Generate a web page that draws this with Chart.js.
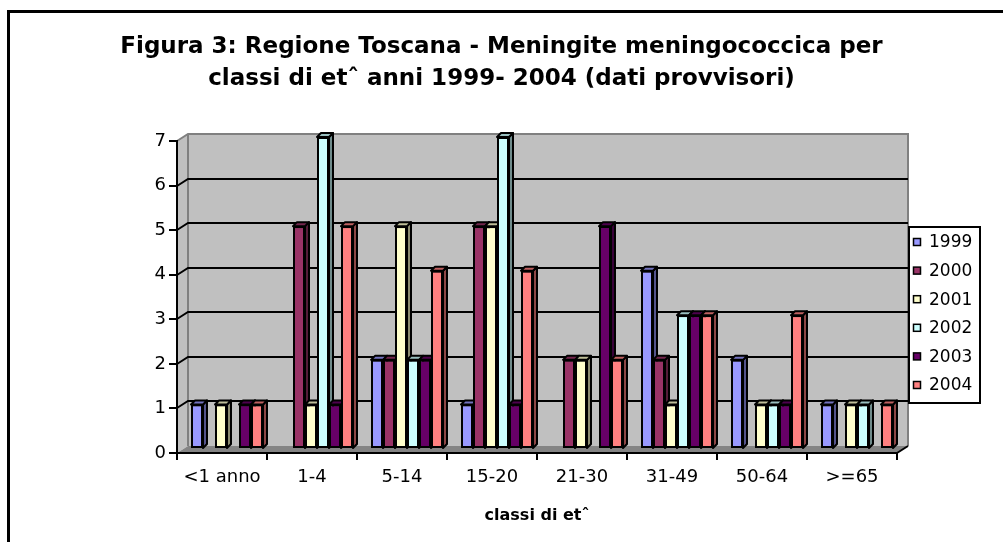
<!DOCTYPE html>
<html>
<head>
<meta charset="utf-8">
<script src="https://cdn.jsdelivr.net/npm/chart.js@4.4.1/dist/chart.umd.min.js"></script>
<style>
  html, body { margin: 0; padding: 0; background: #ffffff; }
  canvas { display: block; }
</style>
</head>
<body>
<canvas id="c" width="1003" height="542"></canvas>
<script>
// ---- data ----
const categories = ['<1 anno', '1-4', '5-14', '15-20', '21-30', '31-49', '50-64', '>=65'];
const seriesNames = ['1999', '2000', '2001', '2002', '2003', '2004'];
const v1999 = [1, 0, 2, 1, 0, 4, 2, 1];
const v2000 = [0, 5, 2, 5, 2, 2, 0, 0];
const v2001 = [1, 1, 5, 5, 2, 1, 1, 1];
const v2002 = [0, 7, 2, 7, 0, 3, 1, 1];
const v2003 = [1, 1, 2, 1, 5, 3, 1, 0];
const v2004 = [1, 5, 4, 4, 2, 3, 3, 1];
const yTicks = [0, 1, 2, 3, 4, 5, 6, 7];
const titleLines = ['Figura 3: Regione Toscana - Meningite meningococcica per', 'classi di etˆ anni 1999- 2004 (dati provvisori)'];
const xTitle = 'classi di etˆ';

const seriesValues = [v1999, v2000, v2001, v2002, v2003, v2004];
const colors = ['#9999FF', '#993366', '#FFFFCC', '#CCFFFF', '#660066', '#FF8080'];

Chart.defaults.font.family = 'DejaVu Sans';
Chart.defaults.color = '#000000';

const WD = 11, WDY = 7;     // wall depth
const BD = 4;               // bar depth
const SX = 5, SY = -4;      // bar row shift (middle of depth)

function shade(hex, f) {
  const n = parseInt(hex.slice(1), 16);
  const r = Math.round(((n >> 16) & 255) * f), g = Math.round(((n >> 8) & 255) * f), b = Math.round((n & 255) * f);
  return `rgb(${r},${g},${b})`;
}

const walls = {
  id: 'walls',
  beforeDraw(chart) {
    const { ctx, chartArea: a } = chart;
    const y = chart.scales.y;
    const L = a.left, R = a.right, T = a.top, B = a.bottom;
    ctx.save();
    ctx.strokeStyle = '#000'; ctx.lineWidth = 3;
    ctx.beginPath(); ctx.moveTo(8.5, 542); ctx.lineTo(8.5, 11.5); ctx.lineTo(1003, 11.5); ctx.stroke();
    ctx.fillStyle = '#c0c0c0';
    ctx.fillRect(L + WD, T - WDY, R - L, B - T);
    ctx.beginPath(); ctx.moveTo(L, T); ctx.lineTo(L + WD, T - WDY); ctx.lineTo(L + WD, B - WDY); ctx.lineTo(L, B); ctx.closePath(); ctx.fill();
    ctx.fillStyle = '#848484';
    ctx.beginPath(); ctx.moveTo(L, B); ctx.lineTo(L + WD, B - WDY); ctx.lineTo(R + WD, B - WDY); ctx.lineTo(R, B); ctx.closePath(); ctx.fill();
    ctx.strokeStyle = '#808080'; ctx.lineWidth = 2;
    ctx.beginPath(); ctx.moveTo(L, T); ctx.lineTo(L + WD, T - WDY); ctx.lineTo(R + WD, T - WDY); ctx.lineTo(R + WD, B - WDY); ctx.stroke();
    ctx.beginPath(); ctx.moveTo(L + WD, T - WDY); ctx.lineTo(L + WD, B - WDY); ctx.stroke();
    ctx.strokeStyle = '#000'; ctx.lineWidth = 2;
    for (const t of y.ticks) {
      if (t.value <= y.min || t.value >= y.max) continue;
      const py = Math.round(y.getPixelForValue(t.value));
      ctx.beginPath(); ctx.moveTo(L, py); ctx.lineTo(L + WD, py - WDY); ctx.lineTo(R + WD, py - WDY); ctx.stroke();
    }
    ctx.beginPath(); ctx.moveTo(R, B); ctx.lineTo(R + WD, B - WDY); ctx.stroke();
    ctx.restore();
  }
};

const bars3d = {
  id: 'bars3d',
  beforeDatasetsDraw(chart) { chart.ctx.save(); chart.ctx.translate(SX, SY); },
  afterDatasetsDraw(chart) {
    const ctx = chart.ctx;
    chart.data.datasets.forEach((ds, i) => {
      const meta = chart.getDatasetMeta(i);
      meta.data.forEach((bar, j) => {
        if (!ds.data[j]) return;
        const { x, y, base, width } = bar.getProps(['x', 'y', 'base', 'width'], true);
        const l = x - width / 2, r = x + width / 2;
        ctx.save();
        ctx.strokeStyle = '#000'; ctx.lineWidth = 2; ctx.lineJoin = 'round';
        ctx.fillStyle = shade(ds.backgroundColor, 0.55);
        ctx.beginPath(); ctx.moveTo(r, y); ctx.lineTo(r + BD, y - BD); ctx.lineTo(r + BD, base - BD); ctx.lineTo(r, base); ctx.closePath(); ctx.fill(); ctx.stroke();
        ctx.fillStyle = shade(ds.backgroundColor, 0.75);
        ctx.beginPath(); ctx.moveTo(l, y); ctx.lineTo(l + BD, y - BD); ctx.lineTo(r + BD, y - BD); ctx.lineTo(r, y); ctx.closePath(); ctx.fill(); ctx.stroke();
        ctx.restore();
        bar.draw(ctx);
      });
    });
    ctx.restore();
  }
};

const legendBox = {
  id: 'legendBox',
  afterDraw(chart) {
    const ctx = chart.ctx;
    ctx.save();
    ctx.fillStyle = '#fff'; ctx.strokeStyle = '#000'; ctx.lineWidth = 2;
    ctx.fillRect(909, 227, 71, 176); ctx.strokeRect(909, 227, 71, 176);
    ctx.font = '17px "DejaVu Sans"'; ctx.textBaseline = 'middle'; ctx.textAlign = 'left';
    chart.data.datasets.forEach((ds, i) => {
      const cy = 242 + i * 28.6;
      ctx.fillStyle = ds.backgroundColor; ctx.fillRect(913.5, cy - 3.5, 7, 7);
      ctx.lineWidth = 1.5; ctx.strokeRect(913.5, cy - 3.5, 7, 7);
      ctx.fillStyle = '#000'; ctx.fillText(ds.label, 929, cy + 1);
    });
    ctx.restore();
  }
};

new Chart(document.getElementById('c'), {
  type: 'bar',
  data: {
    labels: categories,
    datasets: seriesNames.map((n, i) => ({
      label: n,
      data: seriesValues[i],
      backgroundColor: colors[i],
      borderColor: '#000000',
      borderWidth: 2,
      borderSkipped: false,
      barPercentage: 1.0,
      categoryPercentage: 0.8,
      clip: false
    }))
  },
  options: {
    responsive: false,
    animation: false,
    layout: { padding: { left: 0, right: 0, top: 0, bottom: 0 } },
    plugins: {
      legend: { display: false },
      tooltip: { enabled: false },
      title: {
        display: true,
        text: titleLines,
        color: '#000',
        font: { family: 'DejaVu Sans', size: 23, weight: 'bold', lineHeight: 32 / 23 },
        padding: { top: 31, bottom: 46 }
      }
    },
    scales: {
      x: {
        type: 'category',
        offset: true,
        grid: { offset: true, drawOnChartArea: false, drawTicks: true, tickLength: 7, color: '#000', lineWidth: 2 },
        border: { display: true, color: '#000', width: 2 },
        ticks: { font: { size: 18 }, color: '#000', padding: 7, maxRotation: 0, autoSkip: false },
        title: { display: true, text: xTitle, font: { size: 16, weight: 'bold' }, color: '#000', padding: { top: 4, bottom: 17 } },
        afterFit: s => { s.height = 89; }
      },
      y: {
        min: 0, max: 7,
        afterBuildTicks: s => { s.ticks = yTicks.map(v => ({ value: v })); },
        grid: { drawOnChartArea: false, drawTicks: true, tickLength: 8, color: '#000', lineWidth: 2 },
        border: { display: true, color: '#000', width: 2 },
        ticks: { font: { size: 18 }, color: '#000', padding: 3 },
        afterFit: s => { s.width = 177; }
      },
      yR: {
        position: 'right',
        display: true,
        grid: { display: false },
        border: { display: false },
        ticks: { display: false },
        afterFit: s => { s.width = 106; }
      }
    }
  },
  plugins: [walls, bars3d, legendBox]
});
</script>
</body>
</html>
